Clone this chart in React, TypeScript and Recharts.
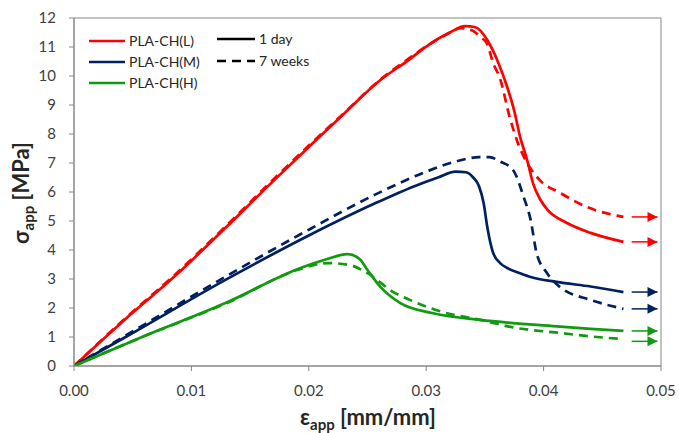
import React from "react";
import { LineChart, Line, XAxis, YAxis, ReferenceArea } from "recharts";

// ---- data (strain in mm/mm, stress in MPa) ----
const xTicks = [0, 0.01, 0.02, 0.03, 0.04, 0.05];
const yTicks = [0, 1, 2, 3, 4, 5, 6, 7, 8, 9, 10, 11, 12];

const lDayStrain = [0, 0.0043, 0.0086, 0.013, 0.0169, 0.02, 0.023, 0.0261, 0.0285, 0.0303, 0.032, 0.0333, 0.0342, 0.0352, 0.0362, 0.0369, 0.0375, 0.038, 0.0386, 0.0391, 0.0397, 0.0403, 0.042, 0.044, 0.0468];
const lDayStress = [0, 1.59, 3.1, 4.8, 6.35, 7.55, 8.7, 9.86, 10.55, 11.1, 11.5, 11.72, 11.68, 11.24, 10.4, 9.62, 8.8, 7.9, 7.1, 6.3, 5.75, 5.4, 4.93, 4.59, 4.28];

const lWeekStrain = [0, 0.0043, 0.0086, 0.013, 0.0169, 0.02, 0.023, 0.0261, 0.0285, 0.0303, 0.0318, 0.033, 0.034, 0.0346, 0.0352, 0.0357, 0.0363, 0.0371, 0.0378, 0.0386, 0.0397, 0.0414, 0.0437, 0.0468];
const lWeekStress = [0, 1.62, 3.15, 4.85, 6.4, 7.6, 8.72, 9.88, 10.6, 11.1, 11.45, 11.65, 11.55, 11.35, 11.1, 10.45, 9.9, 8.6, 7.7, 7.0, 6.4, 5.97, 5.48, 5.14];

const mDayStrain = [0, 0.0044, 0.0129, 0.02, 0.0256, 0.029, 0.031, 0.0325, 0.0334, 0.034, 0.0345, 0.0349, 0.0352, 0.0357, 0.0363, 0.0369, 0.038, 0.0389, 0.0411, 0.044, 0.0468];
const mDayStress = [0, 1.0, 2.97, 4.5, 5.6, 6.2, 6.5, 6.7, 6.68, 6.5, 6.2, 5.6, 4.8, 3.9, 3.55, 3.38, 3.2, 3.07, 2.9, 2.74, 2.55];

const mWeekStrain = [0, 0.0044, 0.0129, 0.02, 0.0256, 0.03, 0.0325, 0.0345, 0.0354, 0.0363, 0.0374, 0.0383, 0.0389, 0.0394, 0.0403, 0.0414, 0.044, 0.0468];
const mWeekStress = [0, 1.05, 3.08, 4.7, 5.9, 6.7, 7.05, 7.2, 7.2, 7.05, 6.76, 5.83, 5.03, 3.9, 3.2, 2.72, 2.28, 1.97];

const hDayStrain = [0, 0.0058, 0.0129, 0.0193, 0.0215, 0.0233, 0.0243, 0.025, 0.0261, 0.0278, 0.0306, 0.0346, 0.0374, 0.0414, 0.044, 0.0468];
const hDayStress = [0, 1.0, 2.17, 3.38, 3.68, 3.86, 3.7, 3.31, 2.73, 2.17, 1.82, 1.59, 1.48, 1.36, 1.28, 1.21];

const hWeekStrain = [0, 0.0058, 0.0129, 0.0193, 0.0216, 0.0235, 0.025, 0.0272, 0.0286, 0.0314, 0.0346, 0.0374, 0.0414, 0.044, 0.0468];
const hWeekStress = [0, 1.0, 2.15, 3.35, 3.55, 3.48, 3.2, 2.55, 2.28, 1.86, 1.59, 1.33, 1.14, 1.02, 0.93];

// arrow levels (continuation indicators)
const arrowStrain = [0.0475, 0.0497];
const arrowLevels = [4.28, 5.14, 2.55, 1.97, 1.21, 0.85];

const RED = "#FF0000";
const BLUE = "#002060";
const GREEN = "#109A10";
const AXIS = "#868686";
const TEXT = "#404040";
const FONT = "Lato, 'Open Sans', sans-serif";

const zip = (xs: number[], ys: number[]) => xs.map((x, i) => ({ x, y: ys[i] }));

const series = [
  { key: "lDay", data: zip(lDayStrain, lDayStress), color: RED, dashed: false },
  { key: "lWeek", data: zip(lWeekStrain, lWeekStress), color: RED, dashed: true },
  { key: "mDay", data: zip(mDayStrain, mDayStress), color: BLUE, dashed: false },
  { key: "mWeek", data: zip(mWeekStrain, mWeekStress), color: BLUE, dashed: true },
  { key: "hDay", data: zip(hDayStrain, hDayStress), color: GREEN, dashed: false },
  { key: "hWeek", data: zip(hWeekStrain, hWeekStress), color: GREEN, dashed: true },
];

const arrowColors = [RED, RED, BLUE, BLUE, GREEN, GREEN];

const arrowDot = (color: string) => (props: any) => {
  const { cx, cy, index } = props;
  if (index !== 1 || cx == null) return <g key={`d${index}`} />;
  return (
    <polygon
      key={`d${index}`}
      points={`${cx},${cy} ${cx - 10},${cy - 5} ${cx - 10},${cy + 5}`}
      fill={color}
      stroke="none"
    />
  );
};

export default function App() {
  return (
    <div style={{ position: "absolute", left: 0, top: 0, width: 679, height: 433, background: "#fff" }}>
      <LineChart width={679} height={433} margin={{ top: 18, right: 18, left: 24, bottom: 37 }}>
        <XAxis
          type="number"
          dataKey="x"
          domain={[0, 0.05]}
          ticks={xTicks}
          allowDataOverflow
          tickFormatter={(v: number) => v.toFixed(2)}
          tick={{ fill: TEXT, fontSize: 15, fontFamily: FONT }}
          tickSize={5}
          tickMargin={14}
          height={30}
          axisLine={{ stroke: AXIS }}
          tickLine={{ stroke: AXIS }}
        />
        <YAxis
          type="number"
          domain={[0, 12]}
          ticks={yTicks}
          interval={0}
          allowDataOverflow
          tick={{ fill: TEXT, fontSize: 15, fontFamily: FONT }}
          tickSize={5}
          tickMargin={13}
          width={50}
          axisLine={{ stroke: AXIS }}
          tickLine={{ stroke: AXIS }}
        />
        <ReferenceArea x1={0} x2={0.05} y1={0} y2={12} fill="none" stroke={AXIS} strokeWidth={1} ifOverflow="visible" />
        {series.map((s) => (
          <Line
            key={s.key}
            data={s.data}
            dataKey="y"
            type="monotone"
            stroke={s.color}
            strokeWidth={2.7}
            strokeDasharray={s.dashed ? "9 6" : undefined}
            dot={false}
            activeDot={false}
            isAnimationActive={false}
          />
        ))}
        {arrowLevels.map((lv, i) => (
          <Line
            key={`arrow${i}`}
            data={zip(arrowStrain, [lv, lv])}
            dataKey="y"
            type="linear"
            stroke={arrowColors[i]}
            strokeWidth={1.5}
            dot={arrowDot(arrowColors[i])}
            activeDot={false}
            isAnimationActive={false}
          />
        ))}
      </LineChart>
      <svg
        width={679}
        height={433}
        style={{ position: "absolute", left: 0, top: 0, pointerEvents: "none" }}
      >
        <g fontFamily={FONT} fontSize={14} fill="#262626">
          <line x1={89} y1={41} x2={125} y2={41} stroke={RED} strokeWidth={2.6} />
          <text x={129} y={46}>PLA-CH(L)</text>
          <line x1={89} y1={62} x2={125} y2={62} stroke={BLUE} strokeWidth={2.6} />
          <text x={129} y={67}>PLA-CH(M)</text>
          <line x1={89} y1={83} x2={125} y2={83} stroke={GREEN} strokeWidth={2.6} />
          <text x={129} y={88}>PLA-CH(H)</text>
          <line x1={217} y1={39} x2={255} y2={39} stroke="#000" strokeWidth={2.6} />
          <text x={259} y={44}>1 day</text>
          <line x1={217} y1={61} x2={255} y2={61} stroke="#000" strokeWidth={2.6} strokeDasharray="9 6" />
          <text x={259} y={66}>7 weeks</text>
        </g>
        <text
          x={368}
          y={425}
          textAnchor="middle"
          fontFamily={FONT}
          fontWeight="bold"
          fontSize={22}
          fill="#262626"
        >
          ε<tspan fontSize={15} dy={5}>app</tspan>
          <tspan dy={-5}> [mm/mm]</tspan>
        </text>
        <text
          transform="translate(29,193) rotate(-90)"
          x={0}
          y={0}
          textAnchor="middle"
          fontFamily={FONT}
          fontWeight="bold"
          fontSize={22}
          fill="#262626"
        >
          σ<tspan fontSize={15} dy={5}>app</tspan>
          <tspan dy={-5}> [MPa]</tspan>
        </text>
      </svg>
    </div>
  );
}
